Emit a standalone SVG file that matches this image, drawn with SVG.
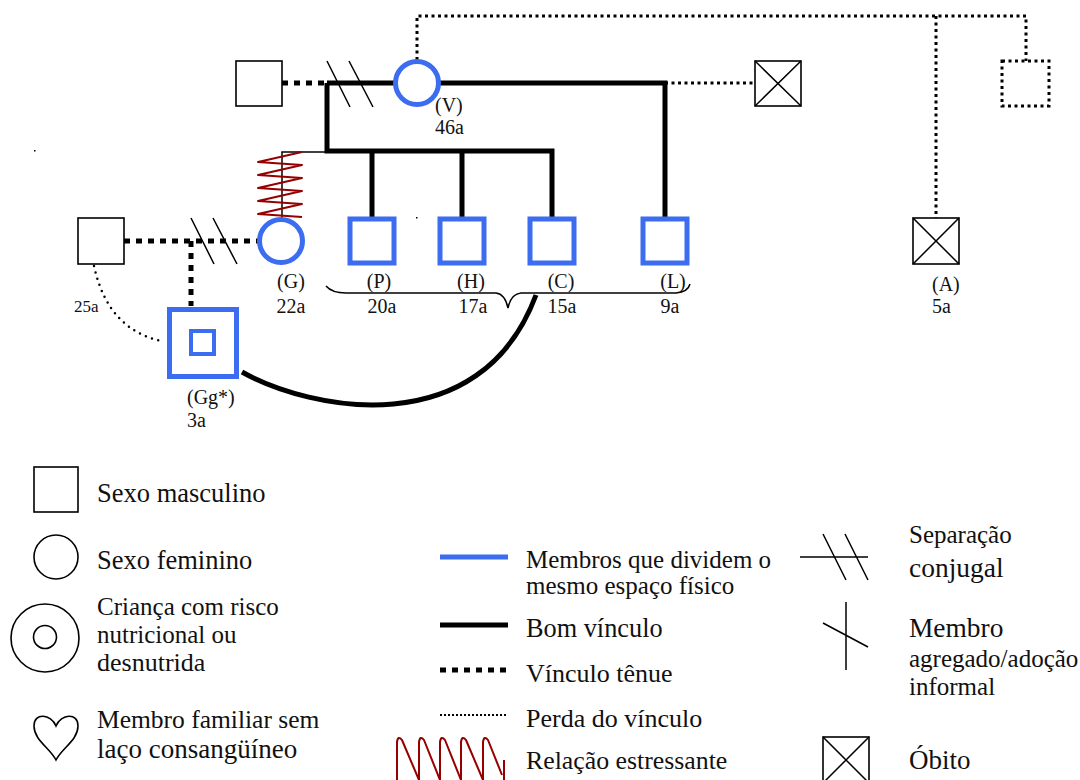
<svg xmlns="http://www.w3.org/2000/svg" width="1080" height="780" viewBox="0 0 1080 780" font-family="Liberation Serif, DejaVu Serif, serif">
<style>
text{font-family:'Liberation Serif','DejaVu Serif',serif;fill:#111}
.lbl{font-size:20px}
.lg{font-size:25px}
.blk{fill:#fff;stroke:#000;stroke-width:1.6}
.blue{fill:#fff;stroke:#3C6DF0;stroke-width:5}
.thick{fill:none;stroke:#000;stroke-width:5}
.weak{fill:none;stroke:#000;stroke-width:5;stroke-dasharray:6 6}
.lost{fill:none;stroke:#000;stroke-width:3;stroke-dasharray:3 3.5}
.thin{fill:none;stroke:#000;stroke-width:1.5}
.stress{fill:none;stroke:#950000;stroke-width:2;stroke-linejoin:round}
</style>
<rect width="1080" height="780" fill="#fff"/>

<g id="connectors">
  <path class="lost" d="M417,60 V16 H1026 V61"/>
  <path class="lost" d="M936,16 V218"/>
  <path class="lost" d="M665,83 H755"/>
  <path class="weak" d="M282,83 H327"/>
  <path class="thick" d="M327,83 H395"/>
  <path class="thin" d="M327,61 L350,107 M349,61 L373,107"/>
  <path class="thick" d="M439,83 H665 V218"/>
  <path class="thick" d="M327,83 V151 H552 V218 M372,151 V218 M462,151 V218"/>
  <path class="thin" d="M327,152 H282 V218"/>
  <polyline class="stress" points="302,152 258,162 302,165 258,175 302,178 258,188 302,191 258,201 302,204 258,214 302,217"/>
  <path class="weak" d="M124,241 H259"/>
  <path class="weak" d="M191,241 V306"/>
  <path class="thin" d="M191,218 L214,264 M213,218 L237,264"/>
  <path fill="none" stroke="#000" stroke-width="2.5" stroke-linecap="round" stroke-dasharray="0 6.5" d="M94,266 Q108,330 162,341"/>
  <path class="thick" d="M242,372 C310,410 480,445 536,295"/>
  <path class="thin" d="M326,286 Q332,293 346,293 H496 Q505,294 508,308 Q511,294 521,293 H676 Q688,292 690,284"/>
</g>

<g id="node-father-top"><rect class="blk" x="236" y="61" width="46" height="45"/></g>
<g id="node-V">
  <circle class="blue" cx="417" cy="83" r="21.5"/>
  <text class="lbl" x="435" y="112">(V)</text>
  <text class="lbl" x="435" y="134">46a</text>
</g>
<g id="node-deceased-top">
  <rect class="blk" x="755" y="61" width="46" height="45"/>
  <path class="thin" d="M755,61 L801,106 M801,61 L755,106"/>
</g>
<g id="node-dotted">
  <rect x="1002" y="61" width="47" height="45" fill="none" stroke="#000" stroke-width="3" stroke-dasharray="3 3.5"/>
</g>
<g id="node-A">
  <rect class="blk" x="913" y="218" width="46" height="46"/>
  <path class="thin" d="M913,218 L959,264 M959,218 L913,264"/>
  <text class="lbl" x="932" y="291">(A)</text>
  <text class="lbl" x="932" y="313">5a</text>
</g>
<g id="node-father-left">
  <rect class="blk" x="78" y="218" width="46" height="46"/>
  <text class="lbl" x="74" y="312" style="font-size:17px">25a</text>
</g>
<g id="node-G">
  <circle class="blue" cx="281" cy="241" r="21.5"/>
  <text class="lbl" x="291" y="288" text-anchor="middle">(G)</text>
  <text class="lbl" x="291" y="313" text-anchor="middle">22a</text>
</g>
<g id="node-P">
  <rect class="blue" x="350" y="219" width="44" height="44"/>
  <text class="lbl" x="379" y="288" text-anchor="middle">(P)</text>
  <text class="lbl" x="382" y="313" text-anchor="middle">20a</text>
</g>
<g id="node-H">
  <rect class="blue" x="440" y="219" width="44" height="44"/>
  <text class="lbl" x="471" y="288" text-anchor="middle">(H)</text>
  <text class="lbl" x="473" y="313" text-anchor="middle">17a</text>
</g>
<g id="node-C">
  <rect class="blue" x="530" y="219" width="44" height="44"/>
  <text class="lbl" x="561" y="288" text-anchor="middle">(C)</text>
  <text class="lbl" x="562" y="313" text-anchor="middle">15a</text>
</g>
<g id="node-L">
  <rect class="blue" x="643" y="219" width="44" height="44"/>
  <text class="lbl" x="673" y="288" text-anchor="middle">(L)</text>
  <text class="lbl" x="670" y="313" text-anchor="middle">9a</text>
</g>
<g id="node-Gg">
  <rect class="blue" x="169.5" y="309.5" width="67" height="67"/>
  <rect x="191" y="331" width="23" height="23" fill="none" stroke="#3C6DF0" stroke-width="4"/>
  <text class="lbl" x="187" y="404">(Gg*)</text>
  <text class="lbl" x="187" y="427">3a</text>
</g>
<rect x="34" y="150" width="1.5" height="1.5" fill="#000"/>
<rect x="416" y="217" width="1.5" height="1.5" fill="#000"/>

<g id="legend">
  <rect class="blk" x="34" y="467" width="44" height="45"/>
  <text class="lg" x="97" y="502" style="font-size:26.5px">Sexo masculino</text>
  <circle class="blk" cx="56" cy="557" r="22"/>
  <text class="lg" x="97" y="569" style="font-size:26.5px">Sexo feminino</text>
  <circle class="blk" cx="45" cy="638" r="34"/>
  <circle class="blk" cx="45" cy="637" r="11.5"/>
  <text class="lg" x="97" y="615" style="font-size:25px">Criança com risco</text>
  <text class="lg" x="97" y="643" style="font-size:25px">nutricional ou</text>
  <text class="lg" x="97" y="671" style="font-size:26px">desnutrida</text>
  <path class="blk" d="M56,726 C51,714 34,712 34,726 C34,740 50,748 56,760 C62,748 78,740 78,726 C78,712 61,714 56,726 Z"/>
  <text class="lg" x="97" y="728" style="font-size:25.5px">Membro familiar sem</text>
  <text class="lg" x="97" y="758" style="font-size:27px">laço consangüíneo</text>

  <path d="M440,557 H508" stroke="#3C6DF0" stroke-width="5"/>
  <text class="lg" x="526" y="568" style="font-size:25px">Membros que dividem o</text>
  <text class="lg" x="526" y="594" style="font-size:25px">mesmo espaço físico</text>
  <path class="thick" d="M440,625 H508"/>
  <text class="lg" x="526" y="637" style="font-size:26.3px">Bom vínculo</text>
  <path class="weak" d="M440,670 H510"/>
  <text class="lg" x="526" y="682" style="font-size:26px">Vínculo tênue</text>
  <path fill="none" stroke="#000" stroke-width="2" stroke-dasharray="2 2" d="M440,715 H508"/>
  <text class="lg" x="526" y="727" style="font-size:26px">Perda do vínculo</text>
  <path class="stress" d="M397,780 V742 Q398,735 402,740 L419,780 V742 Q420,735 424,740 L440,780 V742 Q441,735 445,740 L461,780 V742 Q462,735 466,740 L483,780 V742 Q484,735 488,740 L502,775 M504,760 V780"/>
  <text class="lg" x="526" y="769" style="font-size:25.8px">Relação estressante</text>

  <path class="thin" d="M800,557 H868 M823,534 L846,580 M845,534 L868,580"/>
  <text class="lg" x="909" y="543" style="font-size:25px">Separação</text>
  <text class="lg" x="909" y="577" style="font-size:27.5px">conjugal</text>
  <path class="thin" d="M846,602 V670 M823,623 L868,647"/>
  <text class="lg" x="909" y="637" style="font-size:27.4px">Membro</text>
  <text class="lg" x="909" y="667" style="font-size:25px">agregado/adoção</text>
  <text class="lg" x="909" y="695" style="font-size:25px">informal</text>
  <rect class="blk" x="823" y="737" width="46" height="46"/>
  <path class="thin" d="M823,737 L869,783 M869,737 L823,783"/>
  <text class="lg" x="909" y="769" style="font-size:27px">Óbito</text>
</g>
</svg>
